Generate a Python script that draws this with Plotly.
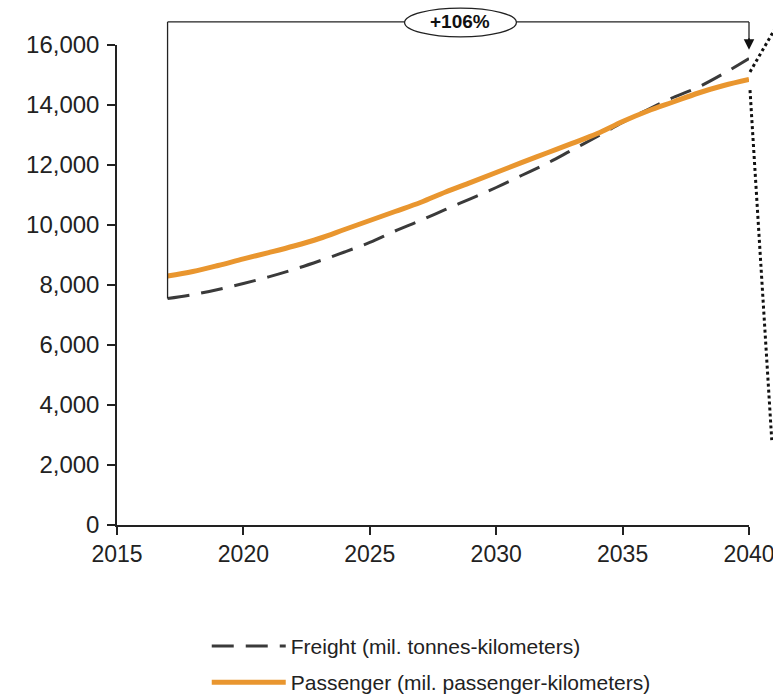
import plotly.graph_objects as go

years = [2017, 2018, 2019, 2020, 2021, 2022, 2023, 2024, 2025, 2026, 2027, 2028,
         2029, 2030, 2031, 2032, 2033, 2034, 2035, 2036, 2037, 2038, 2039, 2040]
freight = [7550, 7680, 7850, 8050, 8270, 8520, 8800, 9100, 9420, 9800, 10150, 10520,
           10880, 11250, 11650, 12050, 12500, 12950, 13420, 13850, 14250, 14600, 15050, 15550]
passenger = [8300, 8450, 8650, 8870, 9080, 9300, 9550, 9850, 10150, 10450, 10750, 11100,
             11420, 11750, 12080, 12400, 12720, 13050, 13450, 13800, 14100, 14400, 14650, 14850]
x_ticks = [2015, 2020, 2025, 2030, 2035, 2040]
y_ticks = [0, 2000, 4000, 6000, 8000, 10000, 12000, 14000, 16000]
growth_label = "+106%"
freight_name = "Freight (mil. tonnes-kilometers)"
passenger_name = "Passenger (mil. passenger-kilometers)"

FONT = "Liberation Sans, Arial, sans-serif"

fig = go.Figure()
fig.add_trace(go.Scatter(x=years, y=freight, mode="lines", name=freight_name, legendgroup="f",
                         line=dict(color="#3a3a3a", width=3, dash="22px,12px", shape="spline")))
fig.add_trace(go.Scatter(x=years, y=passenger, mode="lines", name=passenger_name, legendgroup="p",
                         line=dict(color="#E9962F", width=5, shape="spline")))

shapes = [
    dict(type="line", xref="x", yref="y", x0=years[0], x1=years[0], y0=freight[0], y1=y_ticks[-1],
         line=dict(color="#222", width=1.3)),
    dict(type="line", xref="x", yref="paper", x0=years[0], x1=years[0], y0=1.0, y1=1.048,
         line=dict(color="#222", width=1.3)),
    dict(type="line", xref="x", yref="paper", x0=years[0], x1=years[-1], y0=1.048, y1=1.048,
         line=dict(color="#222", width=1.3)),
    dict(type="line", xref="paper", yref="paper", x0=1.0, x1=1.0, y0=1.048, y1=1.005,
         line=dict(color="#222", width=1.3)),
    dict(type="circle", xref="paper", yref="paper", x0=0.455, x1=0.632, y0=1.017, y1=1.077,
         line=dict(color="#222", width=1.3), fillcolor="white"),
    dict(type="line", xref="paper", yref="paper", x0=1.0016, x1=1.05, y0=0.944, y1=1.054,
         line=dict(color="#111", width=3, dash="3px,3px")),
    dict(type="line", xref="paper", yref="paper", x0=1.0016, x1=1.036, y0=0.906, y1=0.177,
         line=dict(color="#111", width=3, dash="3px,3px")),
]

annotations = [
    dict(xref="paper", yref="paper", x=0.5435, y=1.048, text="<b>" + growth_label + "</b>",
         showarrow=False, font=dict(family=FONT, size=19, color="#111"), yanchor="middle"),
    dict(xref="paper", yref="paper", x=1.0, y=0.99, ax=0, ay=-13, showarrow=True,
         arrowhead=2, arrowsize=1.4, arrowwidth=1.5, arrowcolor="#111", text=""),
]

fig.update_layout(
    width=773, height=696,
    margin=dict(l=117, r=24, t=45, b=171, autoexpand=False),
    paper_bgcolor="white", plot_bgcolor="white",
    font=dict(family=FONT, size=23, color="#222"),
    shapes=shapes, annotations=annotations,
    showlegend=True,
    legend=dict(orientation="v", x=0.142, y=-0.21, xanchor="left", yanchor="top",
                font=dict(family=FONT, size=21, color="#222"), itemwidth=74,
                tracegroupgap=6, bgcolor="rgba(0,0,0,0)"),
)
fig.update_xaxes(range=[2015, 2040], tickvals=x_ticks, ticks="outside", ticklen=8,
                 tickwidth=1.5, tickcolor="#222", showline=True, linecolor="#222", linewidth=1.5,
                 showgrid=False, zeroline=False, tickfont=dict(size=23), automargin=False,
                 ticklabeloverflow="allow")
fig.update_yaxes(range=[0, 16000], tickvals=y_ticks, tickformat=",d", ticks="outside", ticklen=8,
                 tickwidth=1.5, tickcolor="#222", showline=True, linecolor="#222", linewidth=1.5,
                 showgrid=False, zeroline=False, tickfont=dict(size=24), automargin=False,
                 ticklabeloverflow="allow", ticklabelstandoff=3)

fig.write_html("out.html", config={"displayModeBar": False},
               post_script="document.body.style.margin='0';document.body.style.overflow='hidden';")
